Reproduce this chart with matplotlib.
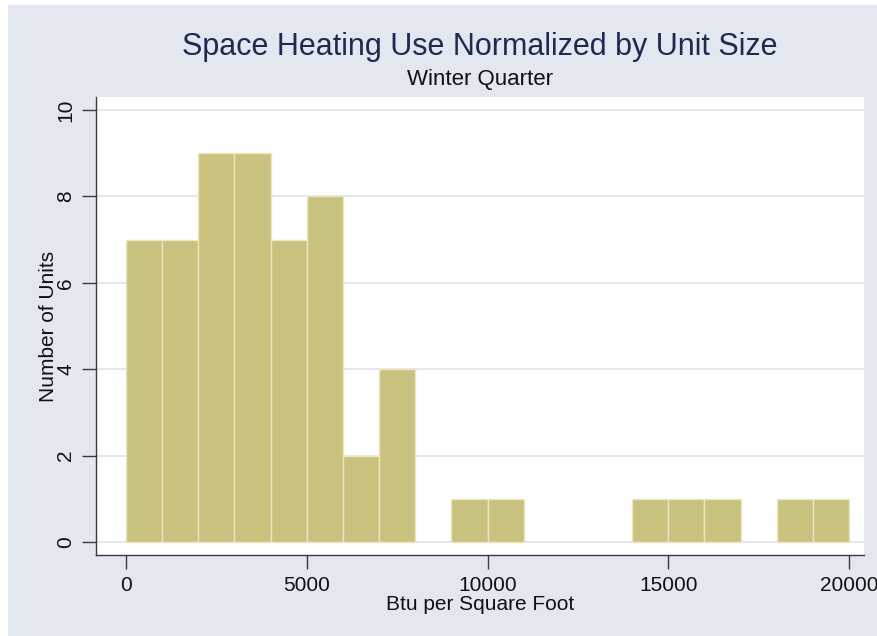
import matplotlib.pyplot as plt
from matplotlib.patches import Rectangle

# histogram bins (Btu per square foot) and counts
bin_edges = [0, 1000, 2000, 3000, 4000, 5000, 6000, 7000, 8000, 9000, 10000,
             11000, 12000, 13000, 14000, 15000, 16000, 17000, 18000, 19000, 20000]
counts = [7, 7, 9, 9, 7, 8, 2, 4, 0, 1, 1, 0, 0, 0, 1, 1, 1, 0, 1, 1]
x_ticks = [0, 5000, 10000, 15000, 20000]
y_ticks = [0, 2, 4, 6, 8, 10]

title = 'Space Heating Use Normalized by Unit Size'
subtitle = 'Winter Quarter'

W, H = 878, 636
plt.rcParams['font.family'] = ['Liberation Sans', 'DejaVu Sans']

fig = plt.figure(figsize=(W / 100, H / 100), dpi=100)
fig.patch.set_facecolor('white')
# stata-like graph region (drawn below the axes)
fig.patches.append(Rectangle((8 / W, 0), 1 - 8 / W, 1 - 5 / H, transform=fig.transFigure,
                             facecolor='#e3e7f0', edgecolor='none', zorder=-5))

ax = fig.add_axes([96 / W, 1 - 555 / H, (864 - 96) / W, (555 - 97) / H])
ax.set_facecolor('white')

# empty bins are not drawn (no outline along the baseline)
lefts = [bin_edges[i] for i in range(len(counts)) if counts[i] > 0]
widths = [bin_edges[i + 1] - bin_edges[i] for i in range(len(counts)) if counts[i] > 0]
heights = [c for c in counts if c > 0]
ax.bar(lefts, heights, width=widths, align='edge',
       color='#c9c17e', edgecolor='#ece6c0', linewidth=1.0, zorder=2)

ax.set_xlim(-830, 20415)
ax.set_ylim(-0.3, 10.3)
ax.set_xticks(x_ticks)
ax.set_yticks(y_ticks)
ax.set_yticklabels([str(v) for v in y_ticks], rotation=90, va='center')

ax.grid(axis='y', color='#e0e3ec', linewidth=1.2, zorder=0)
ax.set_axisbelow(True)
for s in ['top', 'right']:
    ax.spines[s].set_visible(False)
for s in ['left', 'bottom']:
    ax.spines[s].set_color('#3a3a3a')
    ax.spines[s].set_linewidth(1.0)

ax.tick_params(axis='both', length=10, width=1.0, color='#3a3a3a',
               labelsize=15, labelcolor='#111111', pad=5)

ax.set_xlabel('Btu per Square Foot', fontsize=15, color='#111111', labelpad=0)
ax.set_ylabel('Number of Units', fontsize=15, color='#111111')
ax.yaxis.set_label_coords(-0.050, 0.5)

fig.text(480 / W, 1 - 47 / H, title, ha='center', va='center',
         fontsize=22, color='#1e2a50')
fig.text(480 / W, 1 - 79 / H, subtitle, ha='center', va='center',
         fontsize=16, color='#111111')

fig.savefig('out.png', dpi=100)
